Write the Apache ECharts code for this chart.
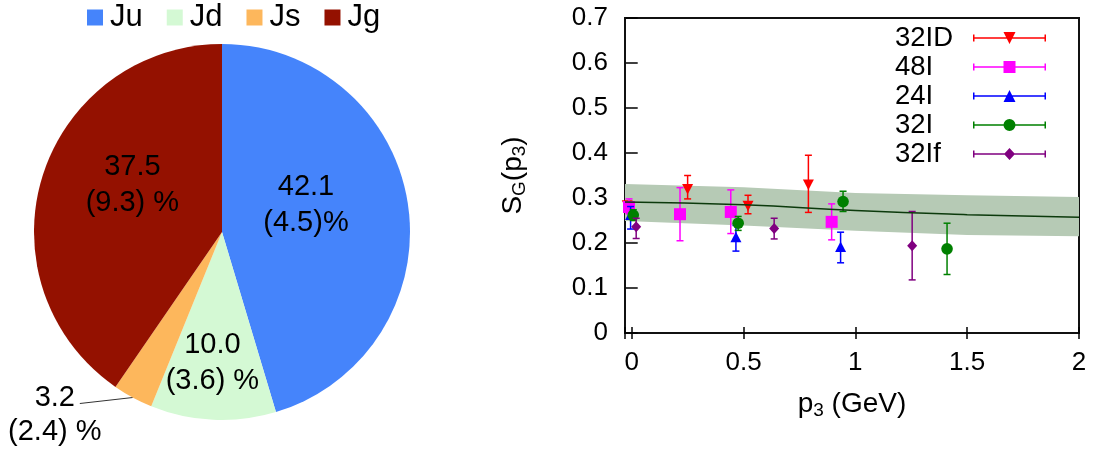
<!DOCTYPE html>
<html>
<head>
<meta charset="utf-8">
<script src="https://cdn.jsdelivr.net/npm/echarts@6/dist/echarts.min.js"></script>
<style>
html, body { margin: 0; padding: 0; background: #fff; }
#main { width: 1093px; height: 453px; }
</style>
</head>
<body>
<div id="main"></div>
<script>
// left: pie of contributions (value, error in %)
const pieNames = ['Ju', 'Jd', 'Js', 'Jg'];
const pieValues = [42.1, 10.0, 3.2, 37.5];
const pieErrors = [4.5, 3.6, 2.4, 9.3];
const pieColors = ['#4584fb', '#d4f9d4', '#fdb75c', '#941100'];

// right: S_G(p3) data points, rows are [p3, value, low, high]
const pts32ID = [[-0.02, 0.284, 0.276, 0.292], [0.25, 0.320, 0.298, 0.350], [0.52, 0.283, 0.265, 0.306], [0.79, 0.330, 0.268, 0.395]];
const pts48I = [[-0.012, 0.280, 0.265, 0.298], [0.216, 0.264, 0.205, 0.323], [0.443, 0.269, 0.221, 0.318], [0.894, 0.247, 0.207, 0.287]];
const pts24I = [[-0.005, 0.262, 0.231, 0.281], [0.466, 0.213, 0.182, 0.239], [0.934, 0.191, 0.156, 0.224]];
const pts32I = [[0.007, 0.262, 0.250, 0.274], [0.476, 0.244, 0.228, 0.259], [0.945, 0.292, 0.270, 0.315], [1.41, 0.187, 0.130, 0.244]];
const pts32If = [[0.02, 0.236, 0.210, 0.255], [0.637, 0.232, 0.209, 0.255], [1.254, 0.194, 0.118, 0.270]];

// fit band
const bandX = [-0.03, 0.5, 1, 1.5, 2];
const bandMid = [0.291, 0.285, 0.272, 0.263, 0.257];
const bandLow = [0.249, 0.239, 0.227, 0.218, 0.215];
const bandHigh = [0.331, 0.324, 0.311, 0.306, 0.302];

const FONT = '"Liberation Sans", Arial, Helvetica, sans-serif';

// where the inside pie labels sit relative to default spot
const pieLabelShift = [[-12, -13], [-5, 34], [0, 0], [3, -18]];

// legend icons: error bar with marker, box 73 x 12
const barPath = 'M0 2.5h1.5v7H0zM1.5 5.25h70v1.5h-70zM71.5 2.5H73v7h-1.5z';
const legendIcons = {
    '32ID': 'path://' + barPath + 'M30.5 0h12l-6 12z',
    '48I': 'path://' + barPath + 'M30.5 0h12v12h-12z',
    '24I': 'path://' + barPath + 'M36.5 0l6 12h-12z',
    '32I': 'path://' + barPath + 'M30.5 6a6 6 0 1 1 12 0a6 6 0 1 1 -12 0z',
    '32If': 'path://' + barPath + 'M36.5 0l5.5 6l-5.5 6l-5.5 -6z'
};

function marker(kind, x, y) {
    if (kind === 'down') return { type: 'polygon', shape: { points: [[x - 5.5, y - 5], [x + 5.5, y - 5], [x, y + 5.5]] } };
    if (kind === 'up') return { type: 'polygon', shape: { points: [[x - 5.5, y + 5], [x + 5.5, y + 5], [x, y - 5.5]] } };
    if (kind === 'square') return { type: 'rect', shape: { x: x - 6, y: y - 6, width: 12, height: 12 } };
    if (kind === 'circle') return { type: 'circle', shape: { cx: x, cy: y, r: 5.8 } };
    return { type: 'polygon', shape: { points: [[x, y - 5.5], [x + 5, y], [x, y + 5.5], [x - 5, y]] } };
}

function errorSeries(name, data, color, kind) {
    return {
        name: name,
        type: 'custom',
        xAxisIndex: 0,
        yAxisIndex: 0,
        itemStyle: { color: color },
        encode: { x: 0, y: [1, 2, 3] },
        data: data,
        renderItem: function (params, api) {
            const p = api.coord([api.value(0), api.value(1)]);
            const lo = api.coord([api.value(0), api.value(2)]);
            const hi = api.coord([api.value(0), api.value(3)]);
            const ls = { stroke: color, lineWidth: 1.5 };
            const m = marker(kind, p[0], p[1]);
            m.style = { fill: color };
            return {
                type: 'group',
                children: [
                    { type: 'line', shape: { x1: p[0], y1: hi[1], x2: p[0], y2: lo[1] }, style: ls },
                    { type: 'line', shape: { x1: p[0] - 3.5, y1: hi[1], x2: p[0] + 3.5, y2: hi[1] }, style: ls },
                    { type: 'line', shape: { x1: p[0] - 3.5, y1: lo[1], x2: p[0] + 3.5, y2: lo[1] }, style: ls },
                    m
                ]
            };
        }
    };
}

const tickStyle = { inside: true, length: 6, lineStyle: { color: '#000', width: 1.5 } };
const nameRich = {
    s: { fontSize: 28, lineHeight: 32, color: '#000', fontFamily: FONT },
    sub: { fontSize: 19, lineHeight: 20, verticalAlign: 'bottom', color: '#000', fontFamily: FONT }
};

const option = {
    animation: false,
    textStyle: { fontFamily: FONT, color: '#000' },
    legend: [{
        orient: 'horizontal',
        left: 82,
        top: -3,
        icon: 'rect',
        itemWidth: 16,
        itemHeight: 16,
        itemGap: 24,
        selectedMode: false,
        textStyle: { fontSize: 31, color: '#000', fontFamily: FONT, padding: [0, 0, 0, 2] },
        data: pieNames
    }, {
        orient: 'vertical',
        align: 'right',
        left: 890,
        top: 19,
        itemWidth: 73,
        itemHeight: 12,
        itemGap: 1,
        selectedMode: false,
        formatter: function (name) { return '{t|' + name + '}'; },
        textStyle: {
            rich: { t: { width: 73, align: 'left', fontSize: 27.5, lineHeight: 27, color: '#000', fontFamily: FONT } }
        },
        data: ['32ID', '48I', '24I', '32I', '32If'].map(function (n) { return { name: n, icon: legendIcons[n] }; })
    }],
    grid: {
        left: 625,
        right: 14,
        top: 18,
        bottom: 120,
        show: true,
        borderColor: '#111',
        borderWidth: 2
    },
    xAxis: [{
        type: 'value',
        min: -0.03,
        max: 2,
        splitNumber: 4,
        position: 'bottom',
        axisLine: { show: false },
        axisTick: tickStyle,
        splitLine: { show: false },
        axisLabel: {
            fontSize: 26, color: '#000', margin: 17,
            formatter: function (v) { return Math.abs(v * 2 - Math.round(v * 2)) < 1e-6 ? String(v) : ''; }
        },
        name: '{s|p}{sub|3}{s| (GeV)}',
        nameLocation: 'middle',
        nameGap: 55,
        nameTextStyle: { rich: nameRich }
    }, {
        type: 'value',
        min: -0.03,
        max: 2,
        splitNumber: 4,
        position: 'top',
        axisLine: { show: false },
        axisTick: tickStyle,
        splitLine: { show: false },
        axisLabel: { show: false }
    }],
    yAxis: [{
        type: 'value',
        min: 0,
        max: 0.7,
        interval: 0.1,
        position: 'left',
        axisLine: { show: false },
        axisTick: tickStyle,
        splitLine: { show: false },
        axisLabel: { fontSize: 26, color: '#000', margin: 17 },
        name: '{s|S}{sub|G}{s|(p}{sub|3}{s|)}',
        nameLocation: 'middle',
        nameGap: 96,
        nameTextStyle: { rich: nameRich }
    }, {
        type: 'value',
        min: 0,
        max: 0.7,
        interval: 0.1,
        position: 'right',
        axisLine: { show: false },
        axisTick: tickStyle,
        splitLine: { show: false },
        axisLabel: { show: false }
    }],
    series: [{
        type: 'pie',
        center: [222, 232],
        radius: 188,
        startAngle: 90,
        clockwise: true,
        silent: true,
        itemStyle: { borderWidth: 0 },
        label: {
            position: 'inside',
            color: '#000',
            fontFamily: FONT,
            fontSize: 29,
            lineHeight: 36,
            align: 'center',
            overflow: 'none'
        },
        labelLine: { show: false },
        labelLayout: function (params) {
            const i = params.dataIndex;
            if (i === 2 && params.labelLinePoints) {
                const a = params.labelLinePoints[0];
                return {
                    x: a[0] - 78, y: a[1] + 17, align: 'center', verticalAlign: 'middle',
                    labelLinePoints: [[a[0], a[1]], [a[0] - 53, a[1] + 6]]
                };
            }
            return { dx: pieLabelShift[i][0], dy: pieLabelShift[i][1] };
        },
        data: pieNames.map(function (n, i) {
            const item = {
                name: n,
                value: pieValues[i],
                itemStyle: { color: pieColors[i] },
                label: {
                    formatter: pieValues[i].toFixed(1) + '\n(' + pieErrors[i].toFixed(1) + ')' + (i === 0 ? '' : ' ') + '%'
                }
            };
            if (i === 2) {
                item.label.position = 'outside';
                item.label.lineHeight = 34;
                item.label.overflow = 'none';
                item.labelLine = { show: true, length: 2, length2: 40, lineStyle: { color: '#333', width: 1 } };
            }
            return item;
        })
    }, {
        type: 'custom',
        name: 'band',
        xAxisIndex: 0,
        yAxisIndex: 0,
        silent: true,
        z: 1,
        data: bandX.map(function (x, i) { return [x, bandLow[i], bandHigh[i]]; }),
        encode: { x: 0, y: [1, 2] },
        renderItem: function (params, api) {
            if (params.dataIndex !== 0) return;
            const pts = [];
            for (let i = 0; i < bandX.length; i++) pts.push(api.coord([bandX[i], bandHigh[i]]));
            for (let i = bandX.length - 1; i >= 0; i--) pts.push(api.coord([bandX[i], bandLow[i]]));
            return { type: 'polygon', shape: { points: pts }, style: { fill: '#b6cab5' } };
        }
    }, {
        type: 'line',
        name: 'fit',
        xAxisIndex: 0,
        yAxisIndex: 0,
        smooth: true,
        showSymbol: false,
        silent: true,
        z: 2,
        lineStyle: { color: '#0c3a0c', width: 1.5 },
        data: bandX.map(function (x, i) { return [x, bandMid[i]]; })
    },
    errorSeries('32ID', pts32ID, '#ff0000', 'down'),
    errorSeries('48I', pts48I, '#ff00ff', 'square'),
    errorSeries('24I', pts24I, '#0000ff', 'up'),
    errorSeries('32I', pts32I, '#008000', 'circle'),
    errorSeries('32If', pts32If, '#800080', 'diamond')]
};

const chart = echarts.init(document.getElementById('main'));
chart.setOption(option);
</script>
</body>
</html>
